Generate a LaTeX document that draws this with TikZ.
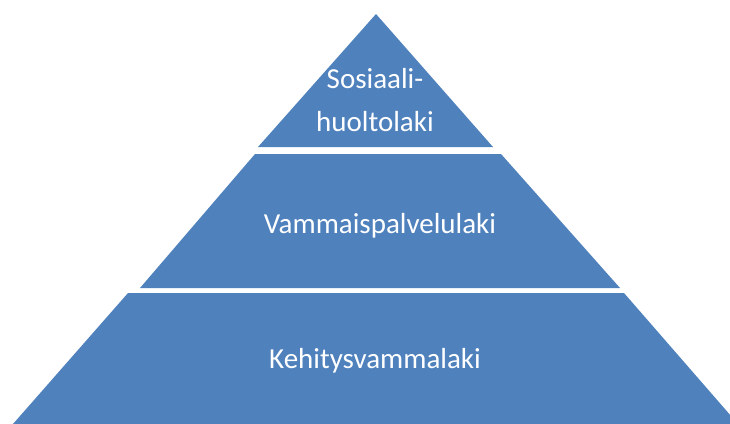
\documentclass[tikz,border=0pt]{standalone}
\usepackage{fontspec}
\setmainfont{Carlito}
\definecolor{pyrblue}{HTML}{4F81BD}
\begin{document}
\begin{tikzpicture}[x=1pt,y=-1pt,
  band/.style={fill=pyrblue,draw=none},
  lbl/.style={text=white,font=\fontsize{29}{43}\selectfont,anchor=base,inner sep=0pt}]
\path[use as bounding box] (0,0) rectangle (730,423);
\begin{scope}
\clip (0,0) rectangle (730,423);
\fill[band] (376,14) -- (493,147) -- (258,147) -- cycle;
\fill[band] (255,154) -- (501,154) -- (620,288) -- (140,288) -- cycle;
\fill[band] (128,293) -- (624,293) -- (738,424) -- (13,424) -- cycle;
\end{scope}
\node[lbl] (t1) at (375,88) {Sosiaali-};
\node[lbl] (t2) at (375,131) {huoltolaki};
\node[lbl] (mid) at (380,233) {Vammaispalvelulaki};
\node[lbl] (bot) at (375,368) {Kehitysvammalaki};
\end{tikzpicture}
\end{document}
